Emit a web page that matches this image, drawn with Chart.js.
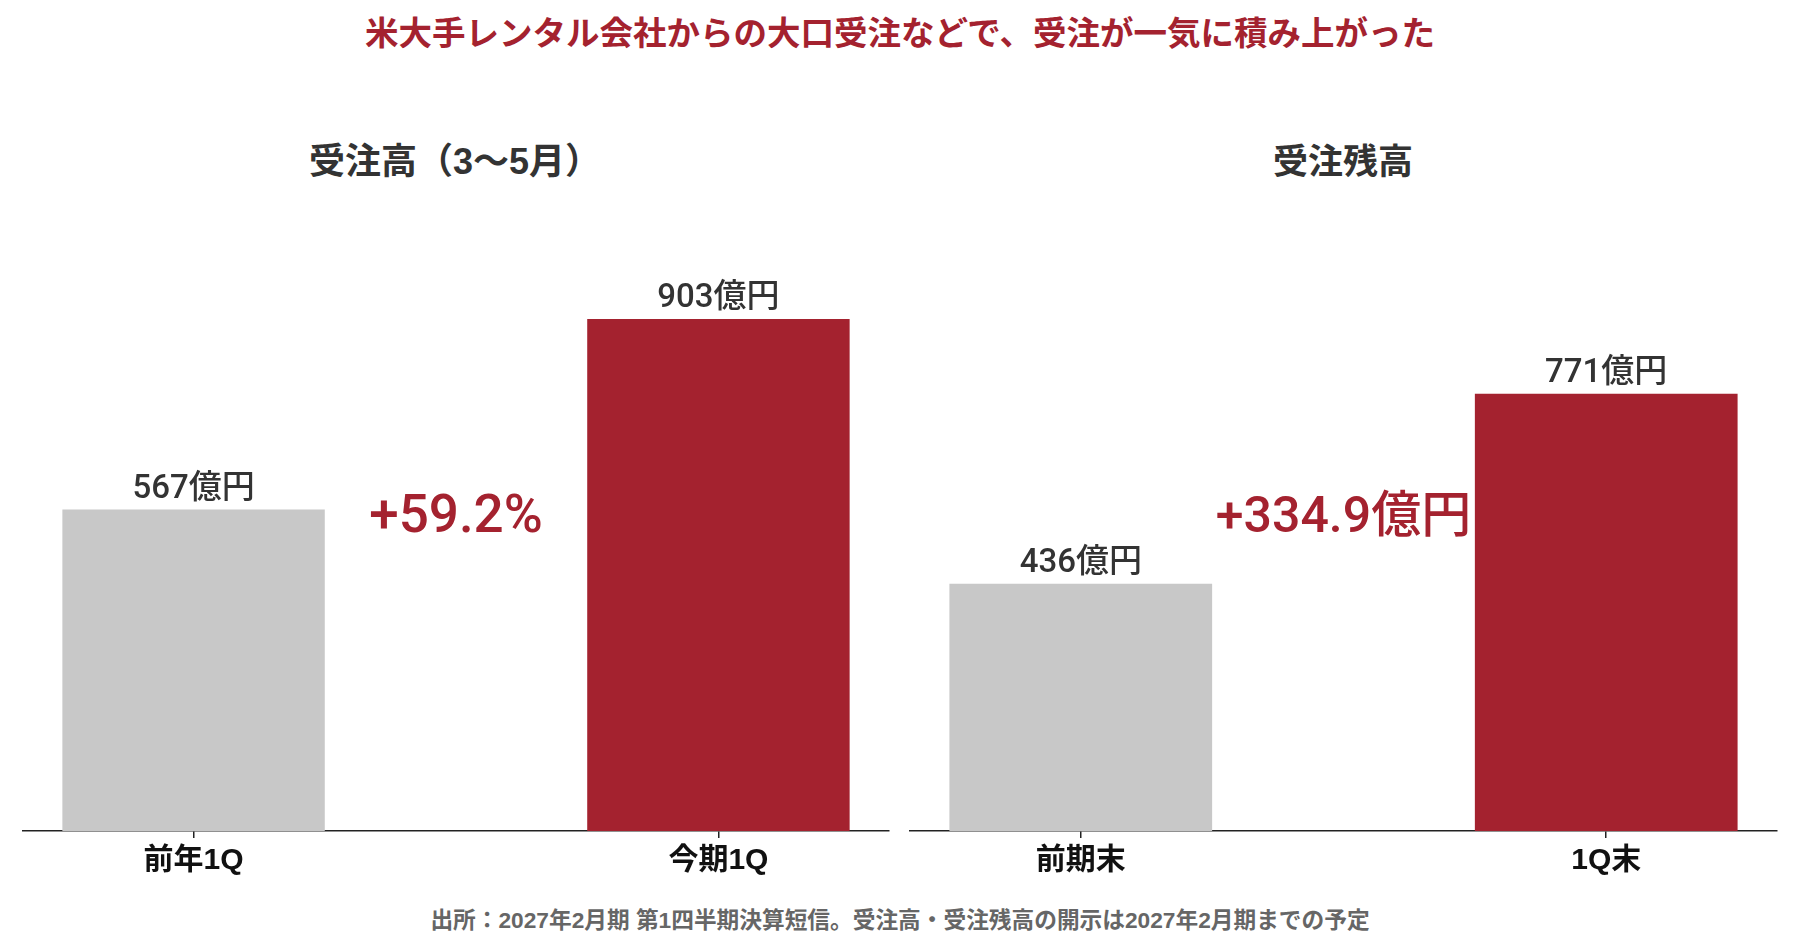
<!DOCTYPE html>
<html lang="ja">
<head>
<meta charset="utf-8">
<script src="https://cdn.jsdelivr.net/npm/chart.js@4.4.1/dist/chart.umd.min.js"></script>
<style>
  html, body { margin: 0; padding: 0; background: #fff; }
  body { width: 1800px; height: 945px; position: relative; overflow: hidden;
         font-family: 'Liberation Sans', 'Noto Sans CJK JP', sans-serif; }
  .txt { position: absolute; transform: translate(-50%, -50%); white-space: nowrap; }
  #title { left: 900px; top: 30px; font-size: 33.5px; font-weight: 700; color: #a4222f; }
  .sub { top: 158px; font-size: 35px; font-weight: 700; color: #333; }
  #subL { left: 455px; font-size: 36px; }
  #subR { left: 1343px; }
  #note { left: 900px; top: 918px; font-size: 22.7px; font-weight: 700; color: #666; }
  .cv { position: absolute; top: 0; width: 900px; height: 945px; }
  #cL { left: 0; }
  #cR { left: 900px; }
</style>
</head>
<body>
<div id="title" class="txt">米大手レンタル会社からの大口受注などで、受注が一気に積み上がった</div>
<div id="subL" class="txt sub">受注高（3～5月）</div>
<div id="subR" class="txt sub">受注残高</div>
<div id="note" class="txt">出所：2027年2月期 第1四半期決算短信。受注高・受注残高の開示は2027年2月期までの予定</div>
<div class="cv" id="cL"><canvas id="chartL"></canvas></div>
<div class="cv" id="cR"><canvas id="chartR"></canvas></div>
<script>
// ---- data ----
const orderCategories = ['前年1Q', '今期1Q'];
const orderValues = [567, 903];
const orderChangeLabel = '+59.2%';

const backlogCategories = ['前期末', '1Q末'];
const backlogValues = [436, 771];
const backlogChangeLabel = '+334.9億円';

const valueUnit = '億円';
const yMax = 1000;

// ---- styles ----
const RED = '#a4222f';
const GRAY = '#c8c8c8';
const FONT = "'Liberation Sans', 'Noto Sans CJK JP', sans-serif";
const LBL_FONT = "Roboto, 'Noto Sans CJK JP', sans-serif";

const labelPlugin = {
  id: 'labels',
  afterDatasetsDraw(chart, args, opts) {
    const ctx = chart.ctx;
    const meta = chart.getDatasetMeta(0);
    ctx.save();
    ctx.textAlign = 'center';
    ctx.textBaseline = 'middle';
    ctx.fillStyle = '#333';
    ctx.font = '500 33px ' + LBL_FONT;
    meta.data.forEach((bar, i) => {
      const v = chart.data.datasets[0].data[i].y;
      ctx.fillText(v + valueUnit, bar.x, bar.y - 20);
    });
    // change annotation
    const ys = chart.scales.y;
    const cx = (meta.data[0].x + meta.data[1].x) / 2;
    const cy = ys.getPixelForValue(opts.at);
    ctx.fillStyle = RED;
    ctx.font = '500 ' + opts.size + 'px ' + LBL_FONT;
    ctx.fillText(opts.text, cx, cy);
    ctx.restore();
  }
};

function makeChart(id, cats, vals, changeText, pad, size) {
  return new Chart(document.getElementById(id), {
    type: 'bar',
    data: {
      datasets: [{
        data: vals.map((v, i) => ({ x: i, y: v })),
        backgroundColor: [GRAY, RED],
        barPercentage: 0.5,
        categoryPercentage: 1.0,
        borderWidth: 0
      }]
    },
    options: {
      responsive: true,
      maintainAspectRatio: false,
      animation: false,
      layout: { padding: { top: 264, bottom: 61, left: pad.left, right: pad.right } },
      plugins: {
        legend: { display: false },
        tooltip: { enabled: false },
        title: { display: false },
        labels: { text: changeText, at: 550, size: size }
      },
      scales: {
        x: {
          type: 'linear',
          offset: false,
          min: -0.325,
          max: 1.325,
          afterBuildTicks: (s) => { s.ticks = [{ value: 0 }, { value: 1 }]; },
          ticks: {
            callback: (v) => cats[v],
            color: '#111',
            font: { family: FONT, size: 30, weight: '700' },
            padding: 5,
            maxRotation: 0,
            autoSkip: false
          },
          grid: { display: true, offset: false, drawOnChartArea: false, drawTicks: true, tickLength: 7, color: '#222', lineWidth: 1.5 },
          border: { display: true, color: '#222', width: 1.5 }
        },
        y: {
          display: false,
          min: 0,
          max: yMax
        }
      }
    },
    plugins: [labelPlugin]
  });
}

makeChart('chartL', orderCategories, orderValues, orderChangeLabel, { left: 23, right: 11 }, 53);
makeChart('chartR', backlogCategories, backlogValues, backlogChangeLabel, { left: 10, right: 23 }, 50);
</script>
</body>
</html>
